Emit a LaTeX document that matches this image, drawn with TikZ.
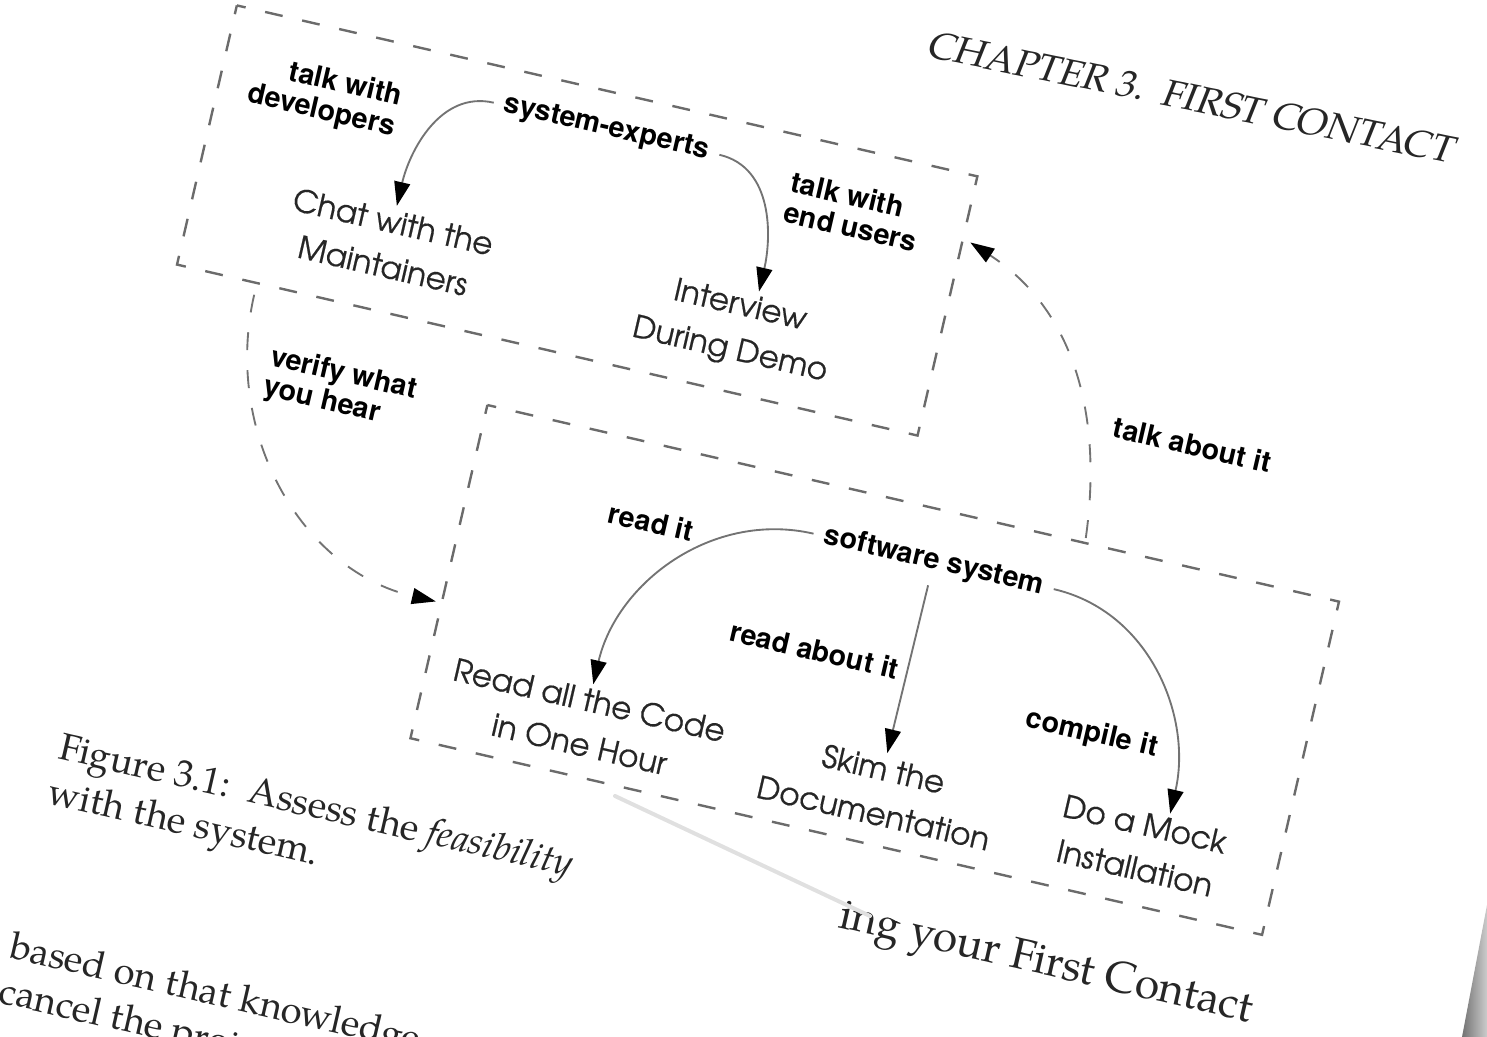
\documentclass[tikz,border=0pt]{standalone}
\usepackage{fontspec}
\setmainfont{TeX Gyre Pagella}
\newfontfamily\adventor[FakeBold=0.5]{TeX Gyre Adventor}
\newfontfamily\heros{TeX Gyre Heros}
\newfontfamily\pagellasl[FakeSlant=0.18]{TeX Gyre Pagella}
\usetikzlibrary{arrows.meta,calc,positioning}

\tikzset{
  act/.style={font=\adventor\fontsize{23.3}{33.8}\selectfont,text=black!85,align=center,inner sep=3pt},
  lbl/.style={font=\heros\bfseries\fontsize{21.5}{23}\selectfont,inner sep=8pt},
  grp/.style={draw=black!58,line width=1.8pt,dash pattern=on 13.5pt off 15pt,dash phase=6.75pt},
  flow/.style={draw=black!55,line width=1.4pt,-{Triangle[length=18pt,width=12pt,color=black]}},
  hop/.style={flow,dash pattern=on 13.5pt off 15pt},
  pagetext/.style={font=\fontsize{28.5}{34}\selectfont,inner sep=0pt,anchor=base west,text=black!85}
}

\begin{document}
\begin{tikzpicture}[x=0.75pt,y=-0.75pt]
\useasboundingbox (0,0) rectangle (1487,1037);
\clip (0,0) rectangle (1487,1037);

% edge of the sheet, bottom right
\shade[left color=black!55,right color=black!20] (1487,905) -- (1462,1037) -- (1487,1037) -- cycle;

\begin{scope}[rotate=-13,transform shape]
  % Running head and text of the page
  \node[font=\pagellasl\fontsize{28.5}{34}\selectfont,anchor=base east,inner sep=0pt,rotate=1.5,text=black!85] (chap) at (1450,-167) {CHAPTER 3.\ \ FIRST CONTACT};
  \node[pagetext] (cap1) at (226,726) {Figure 3.1:\ \ Assess the \textit{feasibility}};
  \node[pagetext] (cap2) at (226,772) {with the system.};
  \node[pagetext] (body1) at (223,931) {based on that knowledge};
  \node[pagetext] (body2) at (223,977) {cancel the project};
  \node[pagetext,anchor=base east,font=\fontsize{33}{36}\selectfont] (sect) at (1448,715) {ing your First Contact};
\end{scope}

% fold of the page over the heading
\fill[white] (600,780) -- (905,925) -- (905,858) -- (600,780) -- cycle;
\draw[black!12,line width=3pt,line cap=round] (615,796) -- (870,916);

\begin{scope}[rotate=-13,transform shape]
  % Groups
  \draw[grp] (232,-48) rectangle (992,218);
  \draw[grp] (566,285) rectangle (1440,627);

  % People
  \node[lbl] (sysexp) at (620,-11) {system-experts};
  \node[lbl,align=right] (devl) at (338,21) {talk with\\developers};
  \node[lbl,align=left] (usrl) at (880,14) {talk with\\end users};
  \node[act] (chat) at (433,150) {Chat with the\\Maintainers};
  \node[act] (interview) at (790,155) {Interview\\During Demo};

  % System
  \node[lbl] (softsys) at (1036,337) {software system};
  \node[lbl] (readit) at (752,362) {read it};
  \node[lbl] (readabout) at (940,450) {read about it};
  \node[lbl] (compile) at (1229,470) {compile it};
  \node[act] (readall) at (732,572) {Read all the Code\\in One Hour};
  \node[act] (skim) at (1034,573) {Skim the\\Documentation};
  \node[act] (mock) at (1301,568) {Do a Mock\\Installation};

  % Between the groups
  \node[lbl,align=left] (verl) at (419,303) {verify what\\you hear};
  \node[lbl] (talkl) at (1262,165) {talk about it};

  %Curve Lines
  \draw[flow] (sysexp.west) to[out=180,in=90] (chat.north);
  \draw[flow] (sysexp.east) to[out=0,in=90] (interview.70);
  \draw[flow] (softsys.west) to[out=180,in=90] (readall.north);
  \draw[flow] (softsys.south) -- (skim.north);
  \draw[flow] (softsys.east) to[out=0,in=90] (mock.60);

  %Dashed Lines
  \coordinate (verA) at (314,230);
  \coordinate (verB) at (560,488);
  \draw[hop] (verA) to[out=270,in=180] (verB);
  \coordinate (talkA) at (1179,280);
  \coordinate (talkB) at (1000,18);
  \draw[hop] (talkA) to[out=95,in=340] (talkB);
\end{scope}
\end{tikzpicture}
\end{document}
